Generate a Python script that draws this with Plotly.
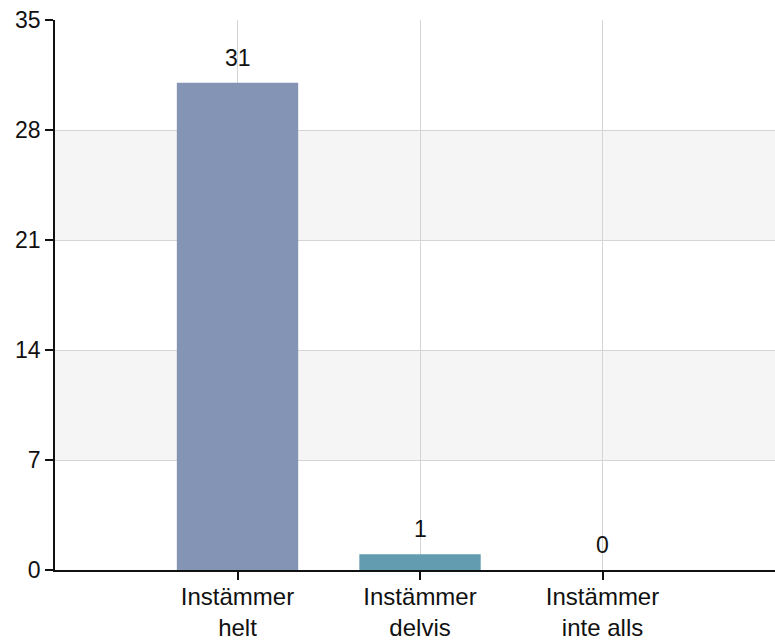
import plotly.graph_objects as go

categories = ["Instämmer<br>helt", "Instämmer<br>delvis", "Instämmer<br>inte alls"]
counts = [31, 1, 0]
bar_colors = ["#8494b4", "#639bb0", "#639bb0"]
y_ticks = [0, 7, 14, 21, 28, 35]
shaded_bands = [(7, 14), (21, 28)]

FONT = "Liberation Sans, Arial, sans-serif"

fig = go.Figure()
fig.add_trace(go.Bar(
    x=list(range(len(categories))),
    y=counts,
    marker=dict(color=bar_colors, line=dict(width=0)),
    width=0.665,
    hoverinfo="skip",
))

# value labels above each bar
for i, v in enumerate(counts):
    fig.add_annotation(
        x=i, y=v, text=str(v), showarrow=False,
        yanchor="bottom", yshift=10,
        font=dict(family=FONT, size=23, color="#111111"),
    )

# alternating horizontal bands
for lo, hi in shaded_bands:
    fig.add_shape(
        type="rect", xref="paper", yref="y", x0=0, x1=1, y0=lo, y1=hi,
        fillcolor="#f5f5f5", line=dict(width=0), layer="below",
    )

fig.update_layout(
    width=775, height=640,
    margin=dict(l=55, r=0, t=20, b=70),
    paper_bgcolor="white", plot_bgcolor="white",
    showlegend=False,
    font=dict(family=FONT, size=23, color="#111111"),
    xaxis=dict(
        range=[-1, 2.945],
        tickmode="array", tickvals=list(range(len(categories))), ticktext=categories,
        tickfont=dict(size=24),
        ticklabelstandoff=-4,
        showgrid=True, gridcolor="#d4d4d4", gridwidth=1,
        showline=True, linecolor="#111111", linewidth=1.5,
        ticks="outside", ticklen=8, tickcolor="#111111", tickwidth=1.5,
        zeroline=False, fixedrange=True, automargin=False,
    ),
    yaxis=dict(
        range=[0, 35],
        tickmode="array", tickvals=y_ticks,
        showgrid=True, gridcolor="#d4d4d4", gridwidth=1,
        showline=True, linecolor="#111111", linewidth=1.5,
        ticks="outside", ticklen=8, tickcolor="#111111", tickwidth=1.5,
        zeroline=False, fixedrange=True, automargin=False,
    ),
)

fig.write_html("out.html")
